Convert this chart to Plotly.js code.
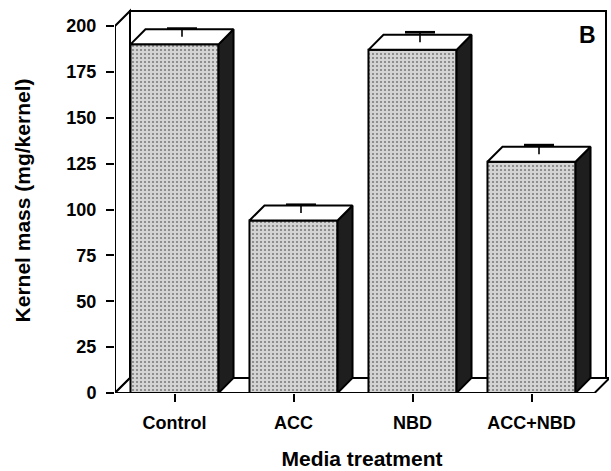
<!DOCTYPE html>
<html>
<head>
<meta charset="utf-8">
<script src="https://cdn.plot.ly/plotly-3.0.1.min.js"></script>
<style>html,body{margin:0;padding:0;background:#fff;}#chart{width:611px;height:471px;}</style>
</head>
<body>
<div id="chart"></div>
<script>
// ---- data ----
const categories = ['Control', 'ACC', 'NBD', 'ACC+NBD'];
const kernelMass = [190, 94, 187, 126];      // mg/kernel
const kernelErr  = [4.5, 4.5, 5.5, 5];       // error bar (upper)
const yTickVals  = [0, 25, 50, 75, 100, 125, 150, 175, 200];

// ---- pseudo-3D styling constants ----
const DX = 15 / 119;     // depth offset in x units
const DY = 8.2;          // depth offset in y units
const HW = 0.37;         // half bar width
const CAP = 15 / 119;    // half cap width
const XMIN = -0.5, XMAX = 3.5, YTOP = 200;

const xs = categories.map((c, i) => i);

// side faces, top faces, error bars (built from the data)
const sideX = [], sideY = [], topX = [], topY = [];
const stemX = [], stemY = [], capX = [], capY = [];
xs.forEach((x, i) => {
  const v = kernelMass[i], e = kernelErr[i];
  sideX.push(x + HW, x + HW, x + HW + DX, x + HW + DX, x + HW, null);
  sideY.push(0, v, v + DY, DY, 0, null);
  topX.push(x - HW, x + HW, x + HW + DX, x - HW + DX, x - HW, null);
  topY.push(v, v, v + DY, v + DY, v, null);
  const cx = x + DX / 2, base = v + DY / 2, top = base + e;
  stemX.push(cx, cx, null); stemY.push(base, top, null);
  capX.push(cx - CAP, cx + CAP, null); capY.push(top, top, null);
});

const traces = [
  {
    type: 'bar', x: xs, y: kernelMass, width: 2 * HW,
    marker: {
      color: '#cdcdcd',
      line: {color: '#000', width: 2},
      pattern: {shape: '.', bgcolor: '#d4d4d4', fgcolor: '#7c7c7c', size: 4, solidity: 0.22}
    },
    hoverinfo: 'skip', showlegend: false
  },
  {
    type: 'scatter', mode: 'lines', x: sideX, y: sideY, fill: 'toself',
    fillcolor: '#1e1e1e', line: {color: '#000', width: 2},
    hoverinfo: 'skip', showlegend: false
  },
  {
    type: 'scatter', mode: 'lines', x: topX, y: topY, fill: 'toself',
    fillcolor: '#ffffff', line: {color: '#000', width: 2},
    hoverinfo: 'skip', showlegend: false
  },
  {
    type: 'scatter', mode: 'lines', x: stemX, y: stemY,
    line: {color: '#000', width: 1.6}, hoverinfo: 'skip', showlegend: false
  },
  {
    type: 'scatter', mode: 'lines', x: capX, y: capY,
    line: {color: '#000', width: 2.6}, hoverinfo: 'skip', showlegend: false
  }
];

const wallLine = {color: '#000', width: 2};
const shapes = [
  // back wall
  {type: 'rect', layer: 'below', xref: 'x', yref: 'y',
   x0: XMIN + DX, x1: XMAX + DX, y0: DY, y1: YTOP + DY,
   fillcolor: '#fff', line: wallLine},
  // left wall
  {type: 'path', layer: 'below', xref: 'x', yref: 'y',
   path: `M ${XMIN} 0 L ${XMIN} ${YTOP} L ${XMIN + DX} ${YTOP + DY} L ${XMIN + DX} ${DY} Z`,
   fillcolor: '#fff', line: wallLine},
  // floor
  {type: 'path', layer: 'below', xref: 'x', yref: 'y',
   path: `M ${XMIN} 0 L ${XMAX + 0.03} 0 L ${XMAX + 0.03 + DX} ${DY} L ${XMIN + DX} ${DY} Z`,
   fillcolor: '#fff', line: wallLine}
];

const tickFont = {family: 'Liberation Sans, Arial, sans-serif', size: 18, color: '#000', weight: 'bold'};
const titleFont = {family: 'Liberation Sans, Arial, sans-serif', size: 21, color: '#000', weight: 'bold'};

const layout = {
  width: 611, height: 471,
  margin: {l: 115, r: 2, t: 8, b: 78},
  paper_bgcolor: '#fff', plot_bgcolor: 'rgba(0,0,0,0)',
  showlegend: false,
  xaxis: {
    range: [XMIN, XMIN + 494 / 119],
    tickvals: xs, ticktext: categories,
    ticks: 'outside', ticklen: 8, tickwidth: 2, tickcolor: '#000',
    showgrid: false, zeroline: false, showline: false,
    tickfont: tickFont, ticklabelstandoff: 5,
    title: {text: 'Media treatment', font: titleFont, standoff: 19}
  },
  yaxis: {
    range: [0, 385 / 1.835],
    tickvals: yTickVals,
    ticks: 'outside', ticklen: 8, tickwidth: 2, tickcolor: '#000',
    showgrid: false, zeroline: false, showline: false,
    tickfont: tickFont, ticklabelstandoff: 6,
    title: {text: 'Kernel mass (mg/kernel)', font: titleFont, standoff: 30}
  },
  shapes: shapes,
  annotations: [{
    text: 'B', xref: 'paper', yref: 'paper', x: (587 - 115) / 494, y: (393 - 35) / 385,
    xanchor: 'center', yanchor: 'middle', showarrow: false,
    font: {family: 'Liberation Sans, Arial, sans-serif', size: 23, color: '#000', weight: 'bold'}
  }]
};

Plotly.newPlot('chart', traces, layout, {staticPlot: true, displayModeBar: false});
</script>
</body>
</html>
